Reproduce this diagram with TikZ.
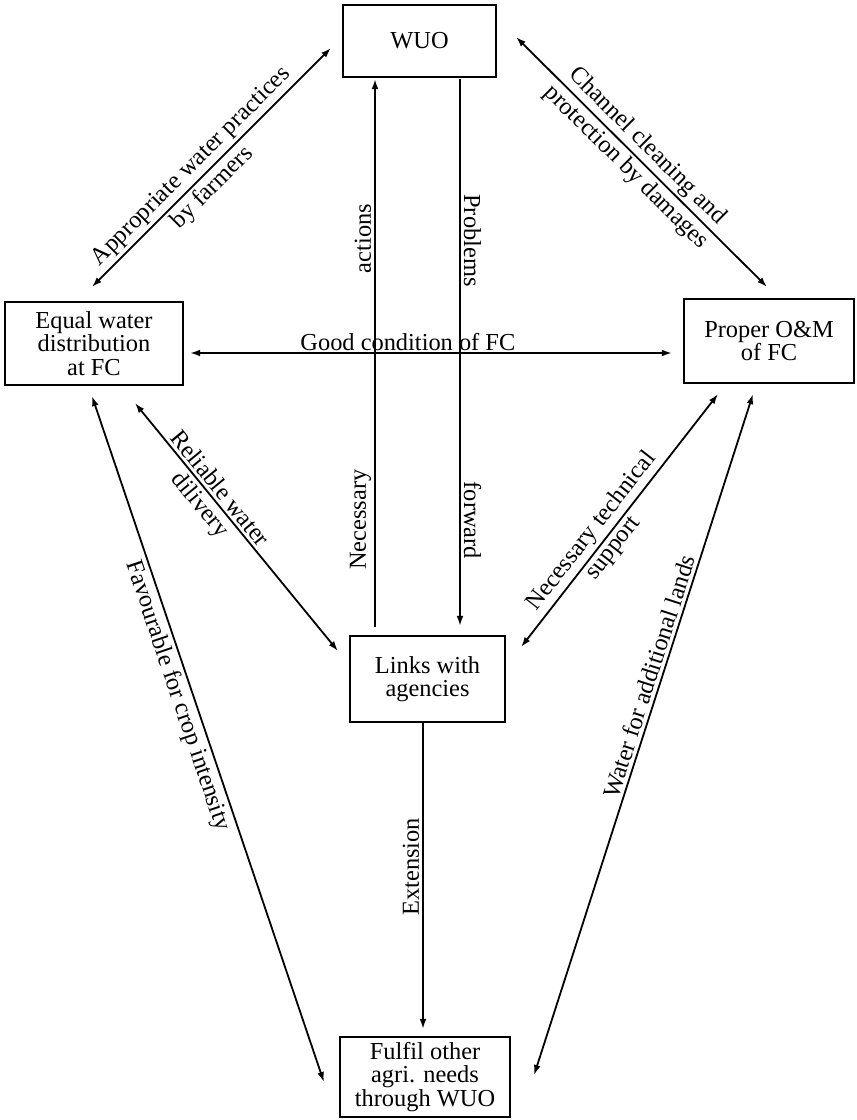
\documentclass[tikz,border=0pt]{standalone}
\usepackage{fontspec}
\setmainfont{Liberation Serif}
\usetikzlibrary{arrows.meta,calc}
\begin{document}
\begin{tikzpicture}[x=0.5pt,y=-0.5pt,
  txt/.style={font=\fontsize{12.2}{11.7}\selectfont},
  box/.style={txt, draw, line width=1.1pt, align=center, inner sep=0pt},
  lbl/.style={txt, inner sep=1.5pt},
  tip/.tip={Latex[length=5pt,width=3.4pt]},
  arr/.style={line width=0.9pt, -tip},
  darr/.style={line width=0.9pt, tip-tip},
]
\useasboundingbox[fill=white] (0,0) rectangle (857,1120);

\node[box, minimum width=76.5pt, minimum height=36pt] (wuo) at (419.5,41) {WUO};
\node[box, minimum width=89pt, minimum height=41.5pt] (equal) at (94,343.5) {Equal water\\distribution\\at FC};
\node[box, minimum width=85pt, minimum height=42pt] (proper) at (769,341) {Proper O\&M\\of FC};
\node[box, minimum width=77.5pt, minimum height=43pt] (links) at (427.5,679) {Links with\\agencies};
\node[box, minimum width=85pt, minimum height=40pt] (fulfil) at (425,1077) {Fulfil other\\agri. needs\\through WUO};

% Appropriate water practices
\draw[darr] ($(equal.north)+(-2,-14)$) -- node[lbl, pos=0.46, sloped, above] {Appropriate water practices}
  node[lbl, pos=0.46, sloped, below] {by farmers} ($(wuo.west)+(-11,7)$);
% Channel cleaning
\draw[darr] ($(wuo.east)+(19,-4)$) -- node[lbl, pos=0.48, sloped, above] {Channel cleaning and}
  node[lbl, pos=0.48, sloped, below] {protection by damages} ($(proper.north)+(-2,-11)$);
% Good condition
\draw[darr] ($(equal.east)+(6,9.5)$) -- node[lbl, pos=0.452, above, inner sep=0.5pt] {Good condition of FC} ($(proper.west)+(-11,12)$);
% Reliable water delivery
\draw[darr] ($(equal.south)+(41,17)$) -- node[lbl, pos=0.375, sloped, above] {Reliable water}
  node[lbl, pos=0.375, sloped, below] {dilivery} ($(links.west)+(-11,-28)$);
% Necessary technical support
\draw[darr] ($(links.east)+(15,-32)$) -- node[lbl, pos=0.42, sloped, above] {Necessary technical}
  node[lbl, pos=0.42, sloped, below] {support} ($(proper.south)+(-51,10)$);
% Favourable for crop intensity
\draw[darr] ($(equal.south)+(-2,10)$) -- node[lbl, pos=0.43, sloped, below] {Favourable for crop intensity} ($(fulfil.west)+(-15,5)$);
% Water for additional lands
\draw[darr] ($(proper.south)+(-16,10)$) -- node[lbl, pos=0.42, sloped, above] {Water for additional lands} ($(fulfil.east)+(23,-2)$);
% Necessary actions
\draw[arr] ($(links.north)+(-52.5,-8)$) -- node[lbl, pos=0.196, sloped, above] {Necessary}
  node[lbl, pos=0.709, sloped, above] {actions} ($(wuo.south)+(-44.5,1)$);
% Problems forward
\draw[arr] ($(wuo.south)+(40.5,1)$) -- node[lbl, pos=0.295, sloped, above] {Problems}
  node[lbl, pos=0.807, sloped, above] {forward} ($(links.north)+(32.5,-9)$);
% Extension
\draw[arr] ($(links.south)+(-4.5,0)$) -- node[lbl, pos=0.47, rotate=90, anchor=south] {Extension} ($(fulfil.north)+(-2,-7)$);
\end{tikzpicture}
\end{document}
